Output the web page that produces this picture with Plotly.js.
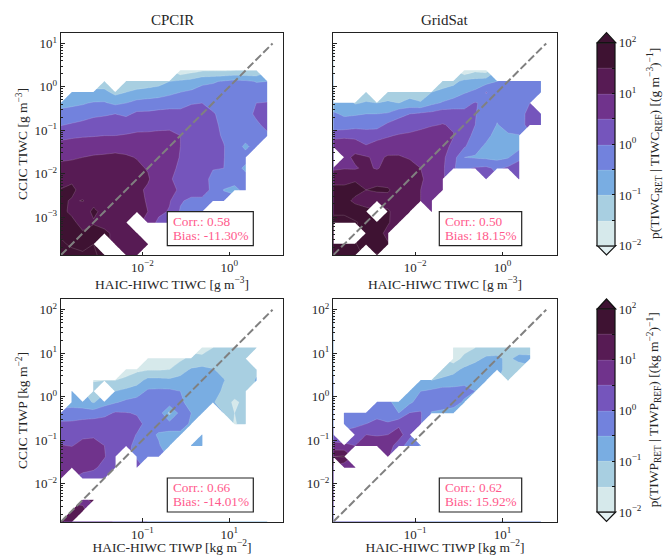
<!DOCTYPE html>
<html><head><meta charset="utf-8">
<script src="https://cdn.plot.ly/plotly-3.0.1.min.js"></script>
<style>html,body{margin:0;padding:0;background:#fff}</style></head>
<body><div id="chart" style="width:663px;height:555px"></div>
<script>
const n = null;
// bin-centre exponents (log10)
const tiwcExp = [-3.875,-3.625,-3.375,-3.125,-2.875,-2.625,-2.375,-2.125,-1.875,-1.625,-1.375,-1.125,-0.875,-0.625,-0.375,-0.125,0.125,0.375,0.625,0.875];
const tiwpExp = [-2.875,-2.625,-2.375,-2.125,-1.875,-1.625,-1.375,-1.125,-0.875,-0.625,-0.375,-0.125,0.125,0.375,0.625,0.875,1.125,1.375,1.625,1.875];
// log10 p(RET | REF); rows run from the top of the panel (j=19) to the bottom (j=0)
const cpcirTiwc = [
[],[],
[n,n,n,n,n,n,n,n,n,n,n,-1.9,-1.7,-1.55,-1.55,-1.55,-1.5,-1.5,-1.5],
[n,n,n,n,-1.35,n,-1.45,-1.4,-1.3,-1.2,-1.0,-.9,-.82,-.62,-.55,-.45,-.35,-.42,-.52,-.5],
[n,-.95,-.85,-.95,-.85,-1.15,-1.0,-.85,-.8,-.75,-.62,-.5,-.42,-.3,-.3,-.22,-.2,-.25,-.3,-.3],
[-.65,-.6,-.55,-.45,-.45,-.6,-.5,-.35,-.3,-.25,-.2,-.12,-.03,0,-.1,-.12,-.22,-.2,0,.03],
[-.35,-.3,-.22,-.1,-.05,0,-.1,.1,.1,.15,.17,.1,.2,.12,.03,-.1,-.25,-.2,.1,.2],
[-.03,.05,.13,.2,.2,.25,.3,.35,.35,.38,.38,.35,.28,.2,.1,-.1,-.28,-.3,-.1,.15],
[.36,.42,.45,.47,.5,.5,.53,.57,.58,.6,.62,.5,.3,.22,.12,-.05,-.3,-.3,-.25,-.1],
[.68,.72,.78,.8,.8,.85,.85,.8,.72,.7,.65,.5,.3,.22,.12,.02,-.25,-.6,-.3,n],
[.92,.95,1.0,1.05,1.08,1.1,1.05,.98,.87,.8,.65,.48,.28,.2,.1,.02,-.3,-.3,n,n],
[1.13,1.15,1.12,1.15,1.15,1.15,1.12,1.08,.97,.8,.65,.4,.25,.2,.02,0,-.3,-.6,n,n],
[1.33,1.4,1.25,1.2,1.2,1.15,1.1,1.1,1.05,.75,.55,.35,.25,.15,-.1,-.15,-.38,-.3,n,n],
[1.52,1.62,1.3,1.3,1.25,1.2,1.1,1.1,.93,.75,.6,.45,.2,.1,-.05,-.52,-.58,-.4,n,n],
[1.6,1.45,1.52,1.35,1.3,1.25,1.15,1.1,.97,.8,.55,.05,-.1,-.05,-.2,-.3],
[1.6,1.42,1.25,1.6,1.35,1.3,1.2,1.1,1.0,.65,.45,-.05,-.15,-.2],
[1.7,1.6,1.35,1.45,1.35,1.4,1.2,n,.9,.35,.1],
[1.95,1.85,1.55,1.7,1.6,1.4,1.3,1.1],
[2.05,1.95,1.9,2.0,n,1.3,1.2,1.15,1.05],
[2.1,2.1,2.05,2.05,1.9,n,1.15,1.05]
];
const gridsatTiwc = [
[],[],
[n,n,n,n,n,n,n,n,n,n,n,n,-1.9,-1.6,-1.7],
[n,n,n,n,n,n,n,n,n,n,-1.3,-1.15,-.85,-.8,-.7,-.5,-.4,-.35,-.35,-.4],
[n,n,n,-1.3,n,-1.2,-1.15,-1.2,-1.3,-1.0,-.85,-.75,-.55,-.4,.02,-.2,-.25,-.28,-.28,-.32],
[-.7,-.7,-1.05,-.95,-1.0,-.95,-1.0,-.85,-.95,-.62,-.45,-.3,-.12,.03,-.1,-.15,-.2,-.2,0,n],
[-.45,-.55,-.55,-.5,-.5,-.45,-.1,0,.1,.15,.3,.25,.1,.02,-.2,-.42,-.3,-.25,.2,.2],
[-.45,-.35,-.2,-.15,-.2,.1,.15,.25,.3,.45,.52,.45,.15,0,-.2,-.52,-.35,-.3,.25,.25],
[.45,.42,.35,.2,.32,.45,.55,.6,.75,.8,.72,.52,.15,-.1,-.35,-.7,-.55,-.52],
[.6,.75,.8,.55,.72,.78,.8,.82,.85,.9,.65,.4,.05,-.3,-.6,-.75,-.7,-.7],
[n,.85,1.1,1.05,.9,1.05,1.05,.95,.85,.75,.6,.2,-.5,-.55,-.6,-.65,-.55,-.1],
[.95,.98,.95,1.1,.95,1.2,1.15,1.2,1.0,.8,.6,.02,-.1,.05,.1,-.1,.1,.2],
[1.2,1.25,1.45,1.48,1.4,1.3,1.2,1.0,1.05,.85,.55,n,n,n,.1,n,n,.1],
[1.75,1.7,1.65,1.5,1.55,1.55,1.3,1.2,1.0,.85,.55],
[1.75,1.65,1.4,1.35,1.3,1.35,1.4,1.15,1.0,.85],
[1.95,1.95,1.75,1.6,n,1.55,1.3,1.2,n,.7],
[2.1,2.1,2.05,1.85,1.7,1.55,1.25],
[n,n,n,1.8,1.7,1.35],
[2.1,2.15,2.05,1.7,1.65,1.55],
[2.2,2.2,2.1,n,2.05]
];
const cpcirTiwp = [
[],[],[],
[n,n,n,n,n,n,n,n,n,n,n,n,n,-1.9,-1.5,-1.3,-1.35,-1.35,-1.35],
[n,n,n,n,n,n,n,n,-1.9,-1.8,-1.8,-1.6,-1.35,-1.25,-1.2,-1.15,-1.2,-1.3],
[n,n,n,n,n,n,-1.6,-1.6,-1.55,-1.55,-1.5,-1.2,-.95,-.9,-.98,-1.1,-1.2,-1.25,-1.1],
[n,n,n,-1.55,-1.5,-1.5,-1.45,-1.2,-.85,-.85,-.9,-.85,-.75,-.7,-.75,-.98,-1.2,-1.25,-.95],
[n,-.8,n,-1.15,n,-1.0,-.85,-.75,-.42,-.4,-.4,-.5,-.7,-.7,-.75,-1.1,-1.25,-1.3],
[n,-.65,-.75,-1.05,-.7,-.55,-.4,-.3,-.2,-.15,-.15,-.45,-.6,-.7,-.95,-1.25,-1.6,-1.35],
[-.4,-.35,-.3,-.25,-.15,.05,.02,-.03,-.15,-.2,-1.15,-.3,-.5,-.9,n,-1.0,-1.5,-1.35],
[.12,.12,.2,.22,.25,.27,.22,.1,-.1,-.3,-.3,-.2,-.6,n,n,n,-1.55,-1.3],
[.3,.38,.42,.45,.35,.22,.15,-.02,-.35,-.55,-.6,-.65,n,-.75],
[.52,.48,.62,.62,.5,.15,.05,-.05,-.25,-.45,-.8,n,-.75,-.75],
[.65,.72,.8,.8,.55,.05,n,-.05,-.2,-.35],
[.55,.58,.7,.65,.25,.02,n,.15],
[.52,n,.3,.1,.02],
[],
[n,n,.95,1.05],
[n,1.1,1.05],
[1.7,1.0]
];
const gridsatTiwp = [
[],[],[],
[n,n,n,n,n,n,n,n,n,n,n,-1.9,-1.7,-1.5,-1.35,-1.25,-1.3,-1.25,-1.2],
[n,n,n,n,n,n,n,n,n,n,n,-1.75,-1.35,-1.15,-.9,-.9,-1.1,-.85,-.9],
[n,n,n,n,n,n,n,n,n,n,-1.4,-1.15,-.9,-.72,-.7,-.8,-1.2,-1.3],
[n,n,n,n,n,n,n,n,-.85,-1.0,-.85,-.8,-.7,-.6,-.85,n,-1.3],
[n,n,n,n,n,n,n,-.72,-.5,-.4,-.3,-.3,-.28,-.5],
[n,n,n,n,-.4,-.4,-.7,-.6,-.25,-.15,-.15,-.2,-.6],
[n,-.2,-.1,-.15,-.3,-.25,-.5,.02,.05,-.55,-.65,-.8],
[n,-.25,-.1,0,.25,.05,.38,.48,.02],
[.2,n,.2,.5,.45,.5,.75,.1],
[.65,.6,.5,.8,.85,.8,.2,-.2,-.55],
[1.5,1.55,n,n,n,.55],
[n,.6,.55],
[],[],[],[],[]
];
const bandColors = ['#e2f0f2','#cde4e6','#97c6df','#72a7e3','#7280dd','#7557bf','#733895','#621f63','#3e1232','#3e1232'];
const titlesTop = ['CPCIR','GridSat'];
const cbarTicks = [-2,-1.5,-1,-0.5,0,0.5,1,1.5,2];
const cbarLabels = ['10<sup>−2</sup>','','10<sup>−1</sup>','','10<sup>0</sup>','','10<sup>1</sup>','','10<sup>2</sup>'];
const stats = [['Corr.: 0.58','Bias: -11.30%'],['Corr.: 0.50','Bias: 18.15%'],['Corr.: 0.66','Bias: -14.01%'],['Corr.: 0.62','Bias: 15.92%']];
const oneToOneTiwc = [-3.875,1];
const oneToOneTiwp = [-2.875,2];
const yTicksTiwc = [1e-3,1e-2,1e-1,1,10];
const yLabelsTiwc = ['10<sup>−3</sup>','10<sup>−2</sup>','10<sup>−1</sup>','10<sup>0</sup>','10<sup>1</sup>'];
const yTicksTiwp = [1e-2,1e-1,1,10,100];
const yLabelsTiwp = ['10<sup>−2</sup>','10<sup>−1</sup>','10<sup>0</sup>','10<sup>1</sup>','10<sup>2</sup>'];
const xTicksTiwc = [1e-2,1];
const xLabelsTiwc = ['10<sup>−2</sup>','10<sup>0</sup>'];
const xTicksTiwp = [1e-1,10];
const xLabelsTiwp = ['10<sup>−1</sup>','10<sup>1</sup>'];

const W=663,H=555, serif='"Liberation Serif", serif', ink='#262626';
const colorscale = bandColors.map((c,k)=>[k/9,c]);
const fx=p=>p/W, fy=p=>1-p/H;
const cols=[[61,283],[333.3,556.7]], rows=[[33,255],[299.3,521.7]];
const panels=[
 {z:cpcirTiwc,e:tiwcExp,c:0,r:0,line:oneToOneTiwc,xl:'HAIC-HIWC TIWC [g m<sup>−3</sup>]',yl:'CCIC TIWC [g m<sup>−3</sup>]',bar:true},
 {z:gridsatTiwc,e:tiwcExp,c:1,r:0,line:oneToOneTiwc,xl:'HAIC-HIWC TIWC [g m<sup>−3</sup>]'},
 {z:cpcirTiwp,e:tiwpExp,c:0,r:1,line:oneToOneTiwp,xl:'HAIC-HIWC TIWP [kg m<sup>−2</sup>]',yl:'CCIC TIWP [kg m<sup>−2</sup>]',bar:true},
 {z:gridsatTiwp,e:tiwpExp,c:1,r:1,line:oneToOneTiwp,xl:'HAIC-HIWC TIWP [kg m<sup>−2</sup>]'}
];
const traces=[],layout={width:W,height:H,margin:{l:0,r:0,t:0,b:0},paper_bgcolor:'#fff',plot_bgcolor:'#fff',showlegend:false,
 font:{family:serif,color:ink,size:12},annotations:[],shapes:[]};
panels.forEach((p,idx)=>{
 const s=idx?String(idx+1):'', xa='x'+s, ya='y'+s;
 const x=p.e.map(v=>Math.pow(10,v));
 const filled=p.z.map(r=>{const o=r.slice();while(o.length<20)o.push(n);return o;}).reverse();
 traces.push({type:'contour',x:x,y:x,z:filled,xaxis:xa,yaxis:ya,connectgaps:true,autocontour:false,zauto:false,zmin:-2,zmax:2,
  contours:{start:-2,end:2,size:.5,coloring:'fill',showlines:true},line:{width:.5,color:'rgba(255,255,255,.3)',smoothing:0},
  colorscale:colorscale,showscale:!!p.bar,hoverinfo:'skip',
  colorbar:p.bar?{x:fx(597.3),xanchor:'left',xpad:0,ypad:0,thickness:18.4,thicknessmode:'pixels',len:203,lenmode:'pixels',
   y:fy(42.7+rows[p.r][0]-33),yanchor:'top',outlinewidth:1.2,outlinecolor:'#111',ticks:'inside',ticklen:3,tickwidth:1,tickcolor:'#111',
   tickmode:'array',tickvals:cbarTicks,ticktext:cbarLabels,tickfont:{family:serif,size:13,color:ink}}:undefined});
 // cells with no samples are blanked up to the neighbouring sampled bin; one empty bin of padding on the top and right
 const padStep=Math.pow(10,p.e[19]+.25), xMask=x.concat([padStep]);
 const mask=filled.map(r=>r.map(v=>v===n?0:1).concat([0]));
 mask.push(xMask.map(()=>0));
 traces.push({type:'contour',x:xMask,y:xMask,z:mask,xaxis:xa,yaxis:ya,showscale:false,hoverinfo:'skip',
  contours:{type:'constraint',operation:'>',value:.97},line:{width:0,smoothing:0},fillcolor:'#fff'});
 const lineVals=p.line.map(v=>Math.pow(10,v));
 traces.push({type:'scatter',mode:'lines',x:lineVals,y:lineVals,xaxis:xa,yaxis:ya,hoverinfo:'skip',line:{color:'#808080',width:2,dash:'8px,3px'}});
 const lo=p.e[0], hi=lo+5.115;
 const common={type:'log',range:[lo,hi],showgrid:false,zeroline:false,showline:true,mirror:true,linecolor:'#222',linewidth:1.3,ticks:'inside',tickcolor:'#222',tickfont:{family:serif,size:13,color:ink},tickmode:'array'};
 layout['xaxis'+s]=Object.assign({},common,{domain:[fx(cols[p.c][0]),fx(cols[p.c][1])],anchor:ya,ticklen:3.5,
   tickvals:p.r?xTicksTiwp:xTicksTiwc,ticktext:p.r?xLabelsTiwp:xLabelsTiwc,
   title:{text:p.xl,font:{family:serif,size:13.5,color:ink},standoff:p.r?4:1}});
 layout['yaxis'+s]=Object.assign({},common,{domain:[fy(rows[p.r][1]),fy(rows[p.r][0])],anchor:xa,ticklen:4,showticklabels:idx!==1,
   tickvals:p.r?yTicksTiwp:yTicksTiwc,ticktext:p.r?yLabelsTiwp:yLabelsTiwc,
   minor:{ticks:'inside',ticklen:2,dtick:'D1',tickcolor:'#222',showgrid:false},
   title:p.yl?{text:p.yl,font:{family:serif,size:13.5,color:ink},standoff:3}:undefined});
 if(p.r===0) layout.annotations.push({xref:'paper',yref:'paper',x:fx((cols[p.c][0]+cols[p.c][1])/2),y:fy(20),text:titlesTop[p.c],showarrow:false,font:{family:serif,size:15,color:ink},xanchor:'center',yanchor:'middle'});
 const bx=p.c?439.3:167.3, bw=p.c?82.4:86, by=rows[p.r][0]+178.7;
 layout.shapes.push({type:'rect',xref:'paper',yref:'paper',x0:fx(bx),x1:fx(bx+bw),y0:fy(by),y1:fy(by+34),fillcolor:'#fff',line:{color:'#222',width:1.2},layer:'above'});
 stats[idx].forEach((t,k)=>layout.annotations.push({xref:'paper',yref:'paper',x:fx(bx+5),y:fy(by+9.8+13.6*k),xanchor:'left',yanchor:'middle',align:'left',
  text:t,showarrow:false,borderpad:0,font:{family:serif,size:13.3,color:'#ff5a8c'}}));
});
[[0,'p(TIWC<sub>RET</sub> | TIWC<sub>REF</sub>) [(g m<sup>−3</sup>)<sup>−1</sup>]'],[1,'p(TIWP<sub>RET</sub> | TIWP<sub>REF</sub>) [(kg m<sup>−2</sup>)<sup>−1</sup>]']].forEach(([r,t])=>{
 const d=rows[r][0]-33;
 const tri=(a,b,c,fill)=>({type:'path',xref:'paper',yref:'paper',path:`M${fx(597.3)},${fy(a+d)}L${fx(606.5)},${fy(b+d)}L${fx(615.7)},${fy(c+d)}Z`,fillcolor:fill,line:{color:'#111',width:1.2}});
 layout.shapes.push(tri(42.7,32.7,42.7,bandColors[9]),tri(245.7,255,245.7,bandColors[0]));
 layout.annotations.push({xref:'paper',yref:'paper',x:fx(654),y:fy(144+d),text:t,textangle:-90,showarrow:false,font:{family:serif,size:13.5,color:ink},xanchor:'center',yanchor:'middle'});
});
Plotly.newPlot('chart',traces,layout,{displayModeBar:false,staticPlot:true});
</script></body></html>
